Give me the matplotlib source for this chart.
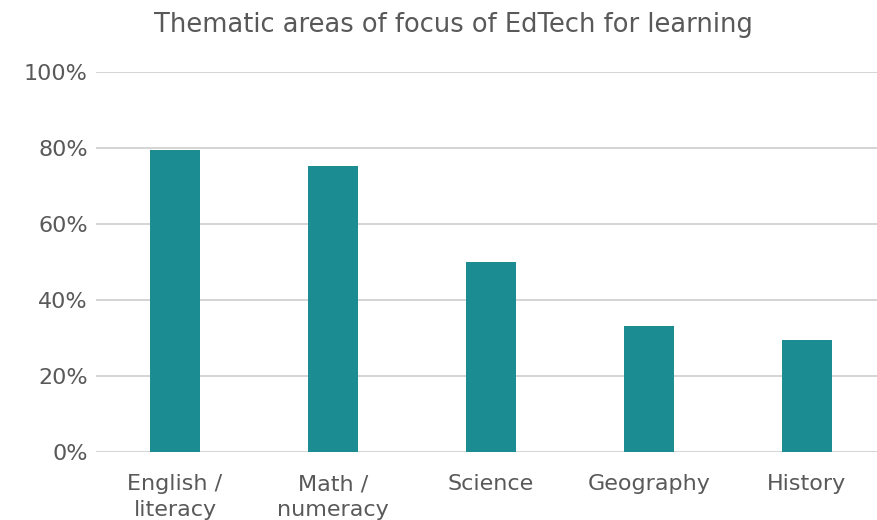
import matplotlib
matplotlib.use("Agg")
import matplotlib.pyplot as plt
from matplotlib.ticker import FuncFormatter

categories = ["English /\nliteracy", "Math /\nnumeracy", "Science", "Geography", "History"]
values = [79.5, 75.3, 50.0, 33.2, 29.5]
yticks = [0, 20, 40, 60, 80, 100]

W, H = 878, 520
fig = plt.figure(figsize=(W / 100, H / 100), dpi=100)
ax = fig.add_axes([96 / W, 68 / H, (W - 96) / W, 380 / H])

txt = "#595959"
font = "DejaVu Sans"
x = range(len(categories))
ax.bar(x, values, width=0.316, color="#1c8c93", zorder=3)
ax.set_xlim(-0.5, 4.45)
ax.set_ylim(0, 100)
ax.set_yticks(yticks)
ax.yaxis.set_major_formatter(FuncFormatter(lambda v, p: f"{v:.0f}%"))
ax.grid(axis="y", color="#d4d4d4", linewidth=1.4, zorder=0)
for s in ax.spines.values():
    s.set_visible(False)
ax.tick_params(axis="both", length=0, labelsize=16, labelcolor=txt)
ax.tick_params(axis="y", pad=6)
ax.tick_params(axis="x", pad=16)
ax.set_xticks(list(x))
ax.set_xticklabels(categories, linespacing=1.35)
for lab in ax.get_xticklabels() + ax.get_yticklabels():
    lab.set_fontfamily(font)
fig.text(453 / W, 1 - 25 / H, "Thematic areas of focus of EdTech for learning",
         ha="center", va="center", fontsize=18.5, color=txt, family=font)
fig.savefig("out.png", dpi=100)
